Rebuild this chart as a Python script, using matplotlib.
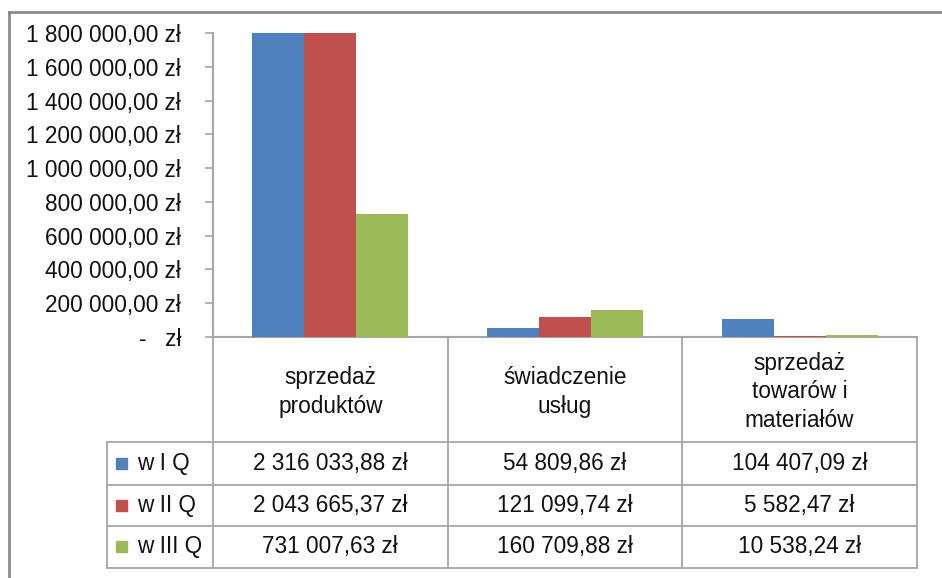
import matplotlib
matplotlib.use("Agg")
import matplotlib.pyplot as plt
from matplotlib.lines import Line2D
from matplotlib.ticker import FuncFormatter, MultipleLocator
import numpy as np

categories = ["sprzedaż\nproduktów", "świadczenie\nusług", "sprzedaż\ntowarów i\nmateriałów"]
series_names = ["w I Q", "w II Q", "w III Q"]
q1 = [2316033.88, 54809.86, 104407.09]
q2 = [2043665.37, 121099.74, 5582.47]
q3 = [731007.63, 160709.88, 10538.24]
colors = ["#4F81BD", "#C0504D", "#9BBB59"]

plt.rcParams['font.family'] = ['Liberation Sans', 'DejaVu Sans']
FS = 16.3
GRID = "#A6A6A6"


def pln(v):
    if v == 0:
        return "-   zł"
    s = f"{v:,.2f}".replace(",", " ").replace(".", ",")
    return s + " zł"


W, H = 942, 578
fig = plt.figure(figsize=(W / 100, H / 100), dpi=100)

# axes placed in pixel terms of the reference
x0, x1 = 213, 917
y_top, y_zero = 33, 337
ax = fig.add_axes([x0 / W, 1 - y_zero / H, (x1 - x0) / W, (y_zero - y_top) / H])
ax.set_facecolor("none")

x = np.arange(len(categories))
bw = 0.222
for i, vals in enumerate([q1, q2, q3]):
    ax.bar(x + (i - 1) * bw, vals, bw, color=colors[i], zorder=3)

ax.set_xlim(-0.5, 2.5)
ax.set_ylim(0, 1800000)
ax.yaxis.set_major_locator(MultipleLocator(200000))
ax.yaxis.set_major_formatter(FuncFormatter(lambda v, p: pln(v)))
ax.tick_params(axis="y", direction="out", length=6, width=1.2, color=GRID,
               labelsize=FS, pad=17, labelcolor="#111111")
ax.set_xticks([])
for side in ["top", "right"]:
    ax.spines[side].set_visible(False)
for side in ["left", "bottom"]:
    ax.spines[side].set_color(GRID)
    ax.spines[side].set_linewidth(1.5)
    ax.spines[side].set_zorder(2)

# overlay in pixel coords for the data table and frame
ov = fig.add_axes([0, 0, 1, 1], zorder=-1)
ov.set_xlim(0, W)
ov.set_ylim(H, 0)
ov.axis("off")

# outer chart frame (cropped at right/bottom)
ov.add_line(Line2D([9, 9], [12, H + 5], color="#8C8C8C", lw=2))
ov.add_line(Line2D([9, W + 5], [12, 12], color="#8C8C8C", lw=2))

col_w = (x1 - x0) / len(categories)
row_tops = [442, 485, 526, 568]
leg_x = 107

# vertical table lines
for k in range(len(categories) + 1):
    xx = x0 + k * col_w
    ov.add_line(Line2D([xx, xx], [y_zero, row_tops[-1]], color=GRID, lw=1.3))
ov.add_line(Line2D([leg_x, leg_x], [row_tops[0], row_tops[-1]], color=GRID, lw=1.3))
for yy in row_tops:
    ov.add_line(Line2D([leg_x, x1], [yy, yy], color=GRID, lw=1.3))

# header row
for k, cat in enumerate(categories):
    ov.text(x0 + (k + 0.5) * col_w, 392, cat, ha="center", va="center",
            fontsize=FS, linespacing=1.3, color="#111111")

# value rows
for r, vals in enumerate([q1, q2, q3]):
    yc = (row_tops[r] + row_tops[r + 1]) / 2
    ov.add_patch(plt.Rectangle((116, yc - 6), 11, 11, color=colors[r]))
    ov.text(137, yc, series_names[r], ha="left", va="center", fontsize=FS, color="#111111")
    for k, v in enumerate(vals):
        ov.text(x0 + (k + 0.5) * col_w, yc, pln(v), ha="center", va="center",
                fontsize=FS, color="#111111")

fig.savefig("out.png", dpi=100, facecolor="white")
